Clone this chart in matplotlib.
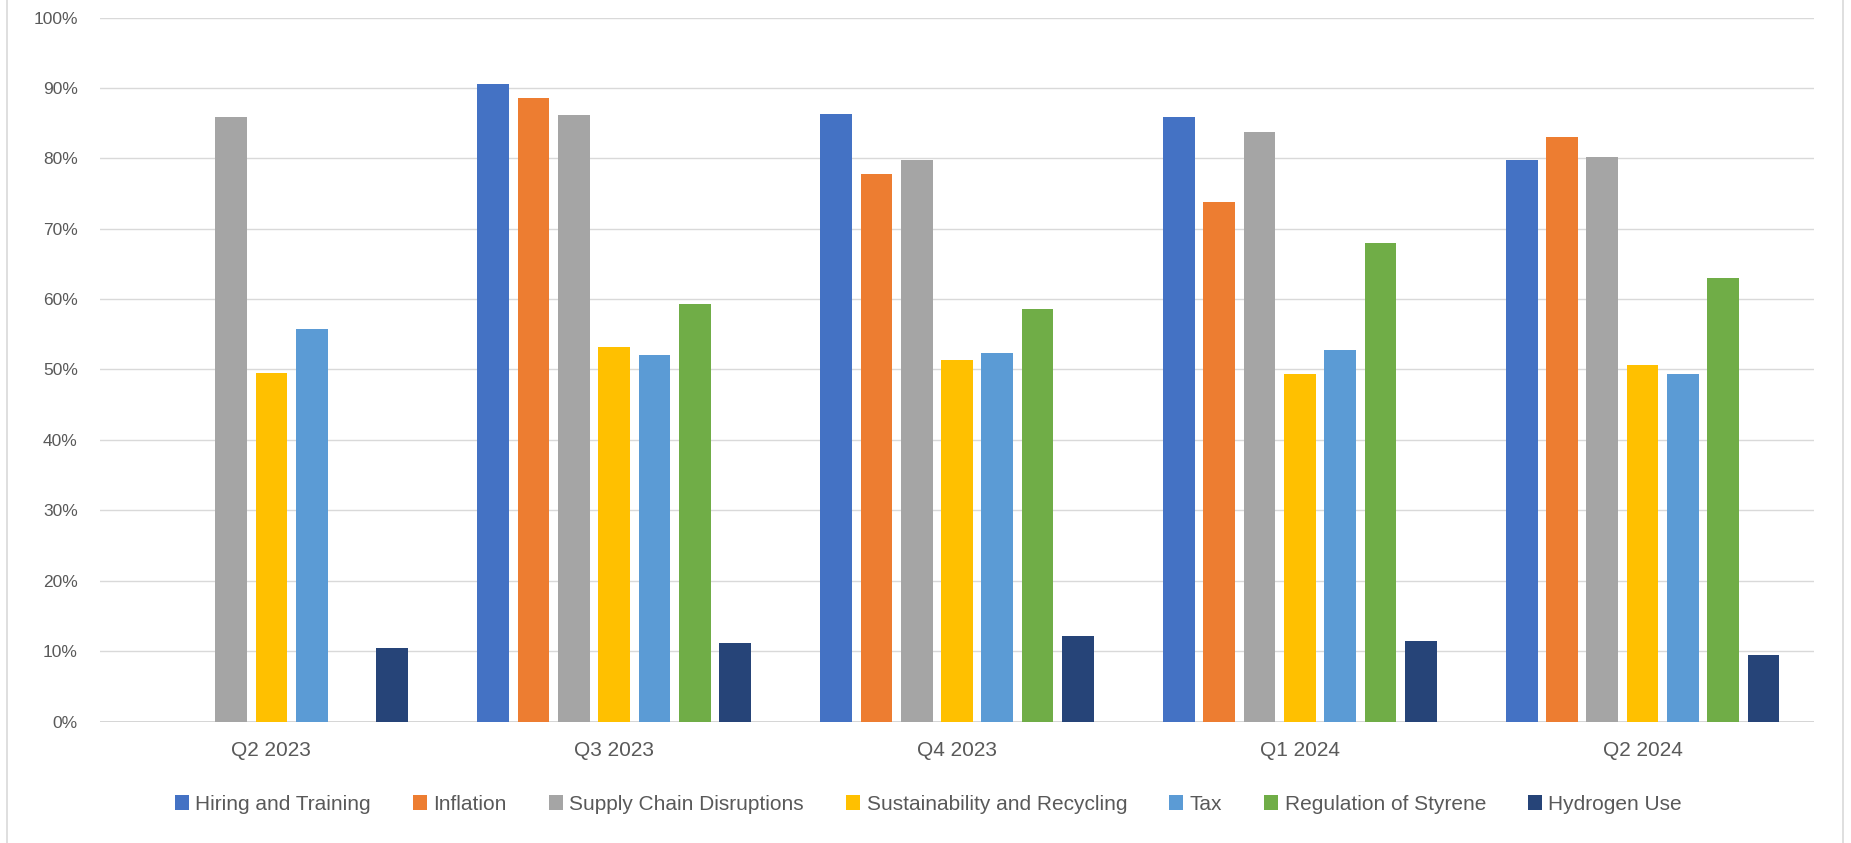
"""
Clustered bar chart of quarterly survey responses by topic
"""

import numpy as np
import matplotlib
matplotlib.use('Agg')
import matplotlib.pyplot as plt
from matplotlib.lines import Line2D
import matplotlib.ticker as mticker

quarters = ['Q2 2023', 'Q3 2023', 'Q4 2023', 'Q1 2024', 'Q2 2024']

hiring = [np.nan, 0.905, 0.863, 0.858, 0.798]
inflation = [np.nan, 0.886, 0.777, 0.738, 0.830]
supply_chain = [0.858, 0.862, 0.797, 0.837, 0.802]
sustainability = [0.495, 0.532, 0.514, 0.494, 0.507]
tax = [0.558, 0.520, 0.524, 0.527, 0.494]
styrene = [np.nan, 0.593, 0.586, 0.680, 0.630]
hydrogen = [0.104, 0.112, 0.121, 0.115, 0.094]

series_names = ['Hiring and Training', 'Inflation', 'Supply Chain Disruptions',
                'Sustainability and Recycling', 'Tax', 'Regulation of Styrene',
                'Hydrogen Use']
series_values = [hiring, inflation, supply_chain, sustainability, tax, styrene, hydrogen]
colors = ['#4472C4', '#ED7D31', '#A5A5A5', '#FFC000', '#5B9BD5', '#70AD47', '#264478']

plt.rcParams['font.family'] = ['Liberation Sans', 'DejaVu Sans']

fig = plt.figure(figsize=(18.51, 8.43), dpi=100)
ax = fig.add_axes([100/1851., 1 - 721.5/843., (1814 - 100)/1851., (721.5 - 17.5)/843.])

x = np.arange(len(quarters))
step = 0.1176
width = 0.0925
for i, (name, vals) in enumerate(zip(series_names, series_values)):
    ax.bar(x + (i - 3) * step, vals, width, color=colors[i], label=name, zorder=3)

ax.set_xlim(-0.5, len(quarters) - 0.5)
ax.set_ylim(0, 1.0)
ax.yaxis.set_major_locator(mticker.MultipleLocator(0.1))
ax.yaxis.set_major_formatter(mticker.FuncFormatter(lambda v, p: '%d%%' % round(v * 100)))
ax.grid(axis='y', color='#D9D9D9', linewidth=1.0, zorder=0)
ax.set_axisbelow(True)
for s in ax.spines.values():
    s.set_visible(False)
ax.axhline(0, color='#D0D0D0', lw=1.2, zorder=1)
ax.set_xticks(x)
ax.set_xticklabels(quarters)
ax.tick_params(axis='y', length=0, pad=16, labelsize=12.5, labelcolor='#595959')
ax.tick_params(axis='x', length=0, pad=14, labelsize=15, labelcolor='#595959')

leg = fig.legend(loc='center', bbox_to_anchor=(0.5015, 1 - 804/843.), ncol=7, frameon=False,
                 fontsize=15, handlelength=0.7, handleheight=0.7, handletextpad=0.3,
                 columnspacing=2.0, labelcolor='#595959')

# outer chart frame edges
fig.add_artist(Line2D([7/1851., 7/1851.], [0, 1], transform=fig.transFigure, color='#D9D9D9', lw=1.2))
fig.add_artist(Line2D([1843/1851., 1843/1851.], [0, 1], transform=fig.transFigure, color='#D9D9D9', lw=1.2))

plt.savefig('out.png', dpi=100, facecolor='white')
